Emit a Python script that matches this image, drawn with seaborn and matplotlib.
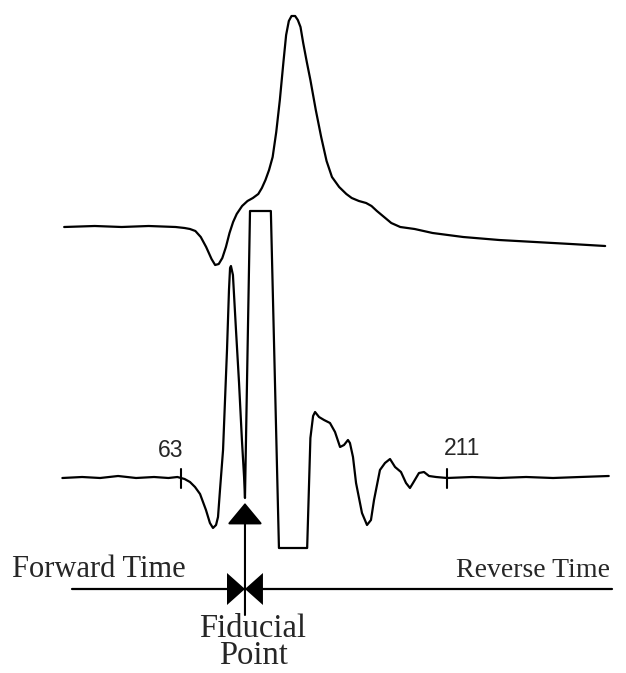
import matplotlib
matplotlib.use("Agg")
import matplotlib.pyplot as plt
import seaborn as sns
import pandas as pd

# ---- data (time in samples, amplitude in arbitrary units) ----
top_t = [-2, 15, 30, 45, 60, 65, 68, 71, 74, 77, 80, 82, 84, 86, 88, 90, 92, 94, 97, 100,
         103, 106, 108, 110, 112, 114, 116, 118, 120, 121.5, 123, 124.5, 126.5, 128, 129.5,
         131, 133, 135, 138, 141, 144, 147, 151, 155, 158, 162, 166, 169, 172, 176, 180,
         185, 193, 203, 220, 240, 260, 280, 299]
top_amp = [0, 1, 0, 1, 0, -1, -2, -4, -10, -20, -32, -38, -37, -31, -20, -6, 5, 13, 21, 26,
           29, 33, 39, 47, 57, 70, 95, 127, 165, 192, 206, 211, 211, 207, 200,
           184, 165, 147, 117, 90, 66, 50, 40, 33, 29, 26, 24, 21, 16, 10, 4,
           0, -2, -6, -10, -13, -15, -17, -19]

low_t = [-3, 8, 18, 28, 38, 48, 56, 61, 63, 65, 68, 70.8, 73.6, 76.9, 79.1, 80.8, 82.5, 83.6,
         84.7, 86.4, 87.5, 88.6, 89.7, 90.3, 90.8, 91.9, 93.6, 95.3, 96.9, 98.1, 98.6, 101.4,
         113, 117.5, 133.2, 135, 136.5, 137.6, 139.8, 142.6, 145.9, 148.7, 151.5, 153.7, 155.9,
         157, 158.7, 160.4, 163.7, 166.5, 168.7, 170.4, 173.7, 176.5, 179.3, 182.1, 185.4,
         188.2, 190.4, 192.1, 195.4, 198.2, 201, 204.9, 211, 225, 240, 255, 270, 285, 301]
low_amp = [0, 1, 0, 2, 0, 1, 0, 1, 0, -1, -4, -9, -16, -32, -45, -50, -47, -39,
           -12, 28, 78, 128, 188, 210, 212, 203, 148, 95, 38, 1, -20, 267,
           267, -70, -70, 40, 62, 66, 61, 58, 55, 46, 31, 33, 38,
           35, 21, -5, -35, -47, -42, -22, 8, 15, 19, 11, 6,
           -5, -10, -5, 5, 6, 2, 1, 0, 1, 0, 1, 0, 1, 2]

tick_samples = [63, 211]
tick_labels = ["63", "211"]
fiducial = 98.6
time_axis_start, time_axis_end = 2.3, 302.8
labels_time = ["Forward Time", "Reverse Time"]
label_fid = "Fiducial\nPoint"

# ---- layout ----
TOP_OFFSET = 251
AXIS_Y = -111
sns.set_style("white")
fig = plt.figure(figsize=(6.26, 6.73), dpi=100)
ax = fig.add_axes([0, 0, 1, 1])
ax.set_xlim(-37.7, 310.6)
ax.set_ylim(-195, 478)
ax.axis("off")

df_top = pd.DataFrame({"t": top_t, "a": [v + TOP_OFFSET for v in top_amp]})
df_low = pd.DataFrame({"t": low_t, "a": low_amp})
sns.lineplot(data=df_top, x="t", y="a", sort=False, estimator=None, color="black", lw=1.6, ax=ax)
sns.lineplot(data=df_low, x="t", y="a", sort=False, estimator=None, color="black", lw=1.6, ax=ax)

# tick marks + labels on lower trace
for tk in tick_samples:
    ax.plot([tk, tk], [-10, 9], color="black", lw=1.5)
ax.text(tick_samples[0] - 5.6, 21, tick_labels[0], ha="center", va="baseline",
        family="Liberation Sans", fontsize=16.5)
ax.text(tick_samples[1] + 8.4, 23, tick_labels[1], ha="center", va="baseline",
        family="Liberation Sans", fontsize=16.5)

# fiducial arrow
ax.annotate("", xy=(fiducial, -25), xytext=(fiducial, -137),
            arrowprops=dict(arrowstyle="-|>,head_length=1.35,head_width=1.12",
                            color="black", lw=1.5, shrinkA=0, shrinkB=0, mutation_scale=10))

# time axis with bow-tie
ax.plot([time_axis_start, time_axis_end], [AXIS_Y, AXIS_Y], color="black", lw=1.6)
bw, bh = 10.0, 16.0
ax.fill([fiducial - bw, fiducial - bw, fiducial], [AXIS_Y - bh, AXIS_Y + bh, AXIS_Y],
        color="black", lw=0)
ax.fill([fiducial + bw, fiducial + bw, fiducial], [AXIS_Y - bh, AXIS_Y + bh, AXIS_Y],
        color="black", lw=0)

# texts
ax.text(-31, -99, labels_time[0], ha="left", va="baseline", family="Liberation Serif", fontsize=22)
ax.text(301.7, -99, labels_time[1], ha="right", va="baseline", family="Liberation Serif", fontsize=20)
ax.text(fiducial + 4.5, -186, label_fid, ha="center", va="baseline", multialignment="center",
        linespacing=0.86, family="Liberation Serif", fontsize=23.5)

fig.savefig("out.png", dpi=100)
